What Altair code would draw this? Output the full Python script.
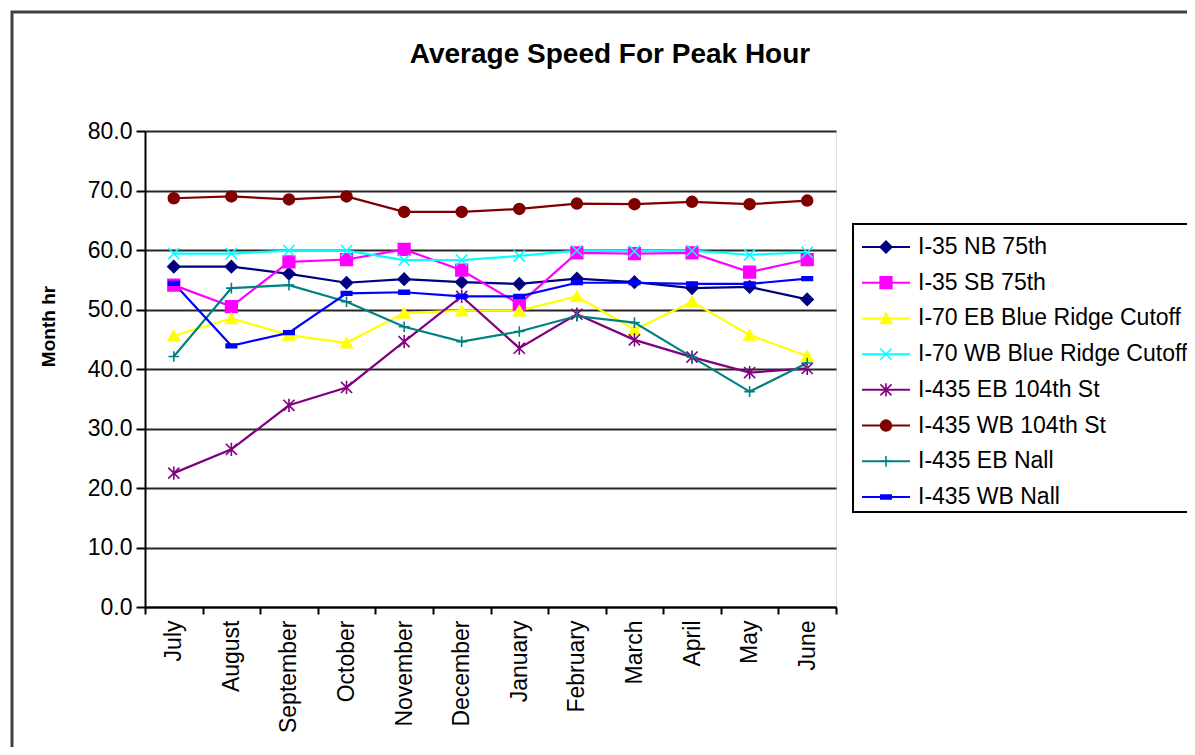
import altair as alt
import pandas as pd

months = ["July", "August", "September", "October", "November", "December",
          "January", "February", "March", "April", "May", "June"]

series = ["I-35 NB 75th", "I-35 SB 75th", "I-70 EB Blue Ridge Cutoff",
          "I-70 WB Blue Ridge Cutoff", "I-435 EB 104th St", "I-435 WB 104th St",
          "I-435 EB Nall", "I-435 WB Nall"]

nb75 = [57.2, 57.2, 56.0, 54.5, 55.1, 54.6, 54.3, 55.2, 54.6, 53.6, 53.8, 51.7]
sb75 = [54.1, 50.5, 58.0, 58.4, 60.1, 56.6, 50.9, 59.5, 59.4, 59.5, 56.3, 58.4]
i70eb = [45.6, 48.5, 45.7, 44.4, 49.4, 49.8, 49.8, 52.2, 46.6, 51.3, 45.7, 42.2]
i70wb = [59.4, 59.4, 59.9, 59.9, 58.3, 58.3, 59.0, 59.9, 59.8, 59.9, 59.2, 59.6]
eb104 = [22.5, 26.5, 33.9, 36.9, 44.6, 52.2, 43.5, 49.2, 44.9, 42.0, 39.4, 40.1]
wb104 = [68.7, 69.0, 68.5, 69.0, 66.4, 66.4, 66.9, 67.8, 67.7, 68.1, 67.7, 68.3]
ebnall = [42.1, 53.6, 54.1, 51.3, 47.1, 44.6, 46.3, 48.9, 47.8, 42.0, 36.2, 41.0]
wbnall = [54.4, 43.9, 46.1, 52.7, 52.9, 52.2, 52.2, 54.5, 54.5, 54.3, 54.3, 55.2]

values = [nb75, sb75, i70eb, i70wb, eb104, wb104, ebnall, wbnall]

title_text = "Average Speed For Peak Hour"
y_title = "Month hr"

rows = []
for s, vals in zip(series, values):
    for i, (m, v) in enumerate(zip(months, vals)):
        rows.append({"series": s, "month": m, "mi": i, "speed": v})
df = pd.DataFrame(rows)

FONT = "Liberation Sans"
colors = ["#000080", "#FF00FF", "#FFFF00", "#00FFFF", "#800080", "#800000", "#008080", "#0000FF"]
shapes = ["diamond", "square", "triangle-up",
          "M-1,-1L1,1M-1,1L1,-1",
          "M-1,-1L1,1M-1,1L1,-1M0,-1.2L0,1.2",
          "circle",
          "M-1,0L1,0M0,-1L0,1",
          "M-1,-0.35L1,-0.35L1,0.35L-1,0.35Z"]
sizes = [140, 110, 150, 100, 140, 120, 110, 60]

color_scale = alt.Scale(domain=series, range=colors)
shape_scale = alt.Scale(domain=series, range=shapes)
size_scale = alt.Scale(domain=series, range=sizes)

x_enc = alt.X("month:N", sort=months,
              scale=alt.Scale(type="band", paddingInner=0, paddingOuter=0),
              axis=alt.Axis(title=None, labelAngle=270, labelFontSize=23, labelFont=FONT,
                            labelColor="black", tickBand="extent", tickSize=7,
                            tickColor="black", tickWidth=2, domainColor="black",
                            domainWidth=2, grid=False, labelPadding=6))
y_enc = alt.Y("speed:Q", scale=alt.Scale(domain=[0, 80], nice=False),
              axis=alt.Axis(values=list(range(0, 81, 10)), format=".1f",
                            labelFontSize=23, labelFont=FONT, labelColor="black",
                            grid=True, gridColor="#262626", gridWidth=2,
                            tickSize=9, tickColor="black", tickWidth=2,
                            domainColor="black", domainWidth=2, labelPadding=4,
                            title=y_title, titleFont=FONT, titleFontSize=19,
                            titleFontWeight="bold", titleColor="black",
                            titleX=-97, titleY=195, titleAlign="center",
                            titleBaseline="middle"))

base = alt.Chart(df)
lines = base.mark_line(strokeWidth=2.2).encode(
    x=x_enc, y=y_enc,
    color=alt.Color("series:N", scale=color_scale, legend=None),
    order="mi:Q")
points = base.mark_point(opacity=1, strokeWidth=1.6).encode(
    x=x_enc, y=y_enc,
    shape=alt.Shape("series:N", scale=shape_scale, legend=None),
    fill=alt.Fill("series:N", scale=color_scale, legend=None),
    stroke=alt.Stroke("series:N", scale=color_scale, legend=None),
    size=alt.Size("series:N", scale=size_scale, legend=None))
main = alt.layer(lines, points)

one = pd.DataFrame({"k": [0]})
border = alt.Chart(one).mark_rect(fillOpacity=0, stroke="#404040", strokeWidth=3).encode(
    x=alt.value(-133), x2=alt.value(1300), y=alt.value(-119), y2=alt.value(900))
title_mark = alt.Chart(one).mark_text(text=title_text, fontSize=28, font=FONT,
                                      fontWeight="bold", color="black",
                                      align="center", baseline="alphabetic").encode(
    x=alt.value(465), y=alt.value(-68))
legend_box = alt.Chart(one).mark_rect(fill="white", stroke="black", strokeWidth=2).encode(
    x=alt.value(708), x2=alt.value(1200), y=alt.value(93), y2=alt.value(381))

leg_df = pd.DataFrame({"series": series})
leg_y = alt.Y("series:N", sort=series,
              scale=alt.Scale(type="point", range=[116, 366], padding=0), axis=None)
leg_rule = alt.Chart(leg_df).mark_rule(strokeWidth=2).encode(
    x=alt.value(717), x2=alt.value(765), y=leg_y,
    color=alt.Color("series:N", scale=color_scale, legend=None))
leg_pts = alt.Chart(leg_df).mark_point(opacity=1, strokeWidth=1.6).encode(
    x=alt.value(741), y=leg_y,
    shape=alt.Shape("series:N", scale=shape_scale, legend=None),
    fill=alt.Fill("series:N", scale=color_scale, legend=None),
    stroke=alt.Stroke("series:N", scale=color_scale, legend=None),
    size=alt.Size("series:N", scale=size_scale, legend=None))
leg_txt = alt.Chart(leg_df).mark_text(align="left", baseline="middle", fontSize=23,
                                      font=FONT, color="black").encode(
    x=alt.value(773), y=leg_y, text="series:N")

chart = alt.layer(border, title_mark, main, legend_box, leg_rule, leg_pts, leg_txt).resolve_scale(
    y="independent"
).properties(
    width=691, height=476,
    autosize=alt.AutoSizeParams(type="none"),
    padding={"left": 137, "top": 123, "right": 351, "bottom": 140},
).configure_view(fill="#C0C0C0", stroke="#808080", strokeWidth=2
).configure(background="white")

chart.save("out.html", embed_options={"renderer": "svg", "actions": False})
